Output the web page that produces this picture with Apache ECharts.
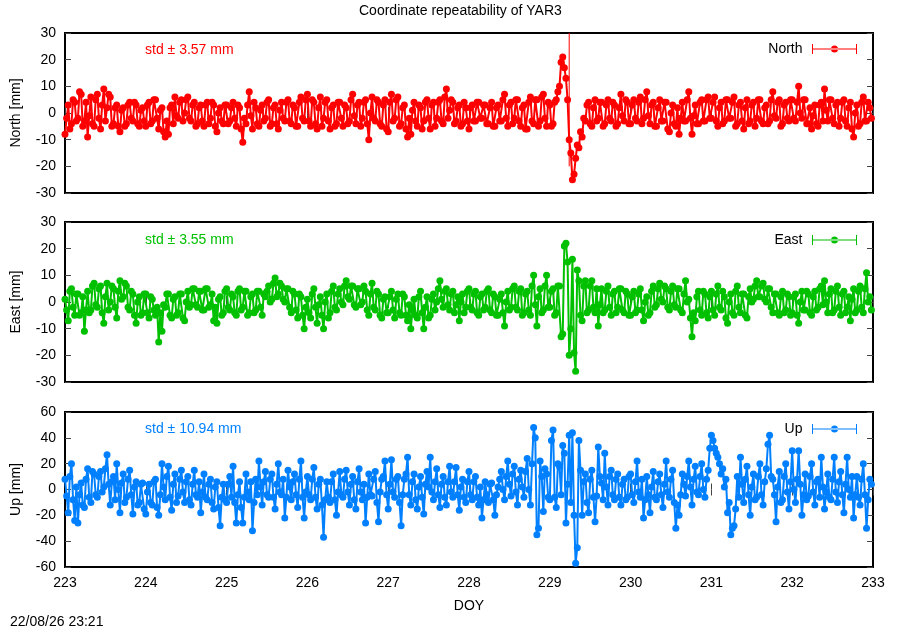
<!DOCTYPE html>
<html>
<head>
<meta charset="utf-8">
<script src="https://cdn.jsdelivr.net/npm/echarts@6/dist/echarts.min.js"></script>
<style>html,body{margin:0;padding:0;background:#fff}#c{width:900px;height:630px}</style>
</head>
<body>
<div id="c"></div>
<script>
// ---- data (one line per day 223..232) ----
const doyStart = 223;
const doyStep = 0.02;
const xTickMin = 223, xTickMax = 233, xTickStep = 1;
const enuTicks = [-30, 30, 10];
const upTicks = [-60, 60, 20];

const north = [
 -8,-2,3,-6,-4,5,4,-3,-2,8,7,-5,-3,4,-9,-1,6,-4,-5,5,7,-2,-6,3,9,-3,2,7,6,-5,-4,2,3,-5,-7,1,2,-5,-4,3,4,-2,-3,4,3,-4,-5,1,2,-3,
 -5,3,4,-4,-3,5,5,-2,-6,1,2,-7,-9,-3,-8,2,3,-4,6,-1,-2,4,5,-3,0,5,6,-2,-3,3,4,-5,-4,2,3,-3,-5,3,4,-4,-2,4,3,-5,-7,0,2,-3,-4,3,
 3,-4,-3,2,4,-2,-5,3,2,-6,-11,-2,-4,3,8,-1,-6,4,2,-4,-5,1,3,-3,-2,4,5,-5,-4,2,3,-4,-6,1,4,-2,-3,4,5,-3,-4,3,2,-5,-5,4,6,-2,-3,5,
 7,-3,-5,5,4,-4,-6,2,6,-5,-2,4,5,-3,-6,2,3,-5,-4,4,4,-2,-5,3,2,-4,-3,5,7,-1,-4,3,4,-5,-2,4,5,-4,-10,0,6,-2,-3,5,4,-4,-5,3,5,-6,
 -7,4,7,-3,-2,5,6,-5,-4,2,3,-6,-9,-2,-8,1,4,-3,-5,3,2,-6,-3,4,5,-2,-6,3,4,-5,-2,4,5,-3,-4,6,9,-2,1,5,4,-4,-3,2,3,-5,-4,4,2,-3,
 -6,2,3,-3,-3,4,4,-2,-2,3,3,-4,-4,2,4,-5,-5,2,3,-3,-3,5,7,-2,-5,3,4,-4,-2,5,5,-3,-5,2,3,-6,-6,4,6,-3,-4,5,5,-5,-3,6,7,-2,-5,4,
 3,-5,-4,4,5,8,10,19,21,17,13,5,-10,-15,-25,-23,-17,-12,-13,-7,-9,-2,-3,3,4,-4,-5,2,5,-3,-2,4,4,-5,-4,3,5,-2,-3,4,3,-5,-4,2,7,-1,-3,5,4,-4,
 -4,3,5,-2,-3,4,6,-4,-2,5,8,-1,-4,3,4,-5,-5,2,5,-3,-3,4,4,-6,-7,0,3,-4,-5,2,-8,-2,4,-3,-3,5,8,-2,-8,-1,3,-4,-4,4,5,-3,-3,5,6,-2,
 -2,4,6,-3,-5,2,4,-4,-3,5,5,-2,-2,4,6,-5,-4,3,4,-3,-6,2,5,-4,-3,3,4,-5,-2,5,5,-3,-4,2,3,-4,-3,5,8,-1,-2,4,5,-5,-4,3,4,-2,-3,5,
 5,-2,-3,4,10,0,-2,5,5,-4,-4,2,-6,-1,3,-4,-5,3,4,-3,9,1,-3,5,5,-2,-4,3,4,-5,-2,4,5,-3,-5,2,4,-6,-9,0,3,-5,-4,4,6,-3,-3,4,2,-2
];
const east = [
 1,-3,-7,4,5,-2,-5,3,3,-5,-4,2,-11,-3,4,-4,-3,6,7,-1,-2,5,6,-4,-8,2,7,-3,0,6,5,-2,-6,4,8,1,2,7,6,-2,-3,4,3,-5,-8,0,2,-5,-4,3,
 3,-4,-6,2,1,-3,-5,-2,-15,-4,-11,-1,-2,3,3,-5,-6,1,2,-5,-4,3,3,-6,-7,0,4,-2,-1,5,5,-1,-2,4,4,-3,-3,5,5,-2,-1,3,-7,-2,-8,1,2,-5,-4,4,
 5,-2,-3,3,2,-4,-5,4,5,-3,-2,4,4,-5,-4,2,3,-4,-3,4,4,-2,-5,3,2,4,6,0,1,7,9,2,3,7,6,1,0,5,5,-2,-4,4,3,-3,-6,3,2,-5,-10,-2,
 1,-4,-6,3,5,-2,-8,-1,2,-5,-10,0,3,-6,-4,4,6,-2,-3,3,5,0,-1,6,8,2,1,6,6,-1,-2,5,5,-1,0,6,4,-3,-5,3,7,-2,-3,4,3,-5,-6,1,2,-4,
 -4,2,4,-3,-6,1,3,-4,-5,3,2,-5,-7,-1,-10,-3,1,-5,-6,2,4,-4,-10,-2,2,-6,-5,1,3,-3,0,5,8,1,-2,4,5,-1,-3,3,4,-4,-1,2,-7,0,3,-4,-2,4,
 5,-2,-3,3,4,-4,-5,2,3,-3,-2,4,5,-3,-4,3,2,-5,-5,1,3,-4,-9,0,4,-3,-2,5,6,-2,-3,4,5,-5,-4,3,4,-3,-5,6,10,-1,-9,2,5,-4,-3,6,10,-2,
 -2,4,5,-5,-4,6,6,-13,-12,21,22,15,-20,-10,16,-19,-26,12,8,-5,-7,6,8,-4,-3,6,8,-2,-4,5,-9,-1,5,-4,-3,4,6,-2,-5,3,4,-4,-2,5,5,-3,-4,4,3,-5,
 -5,2,4,-4,-3,3,5,-3,-7,0,2,-5,-4,4,6,-2,-1,5,7,1,0,6,5,-2,-3,4,6,-1,-2,5,5,-3,-4,3,8,0,1,-6,-13,-4,-7,2,4,-3,-5,4,3,-4,-6,2,
 4,-3,-5,3,6,-2,-3,4,2,-6,-8,0,3,-4,-5,4,6,-2,-4,3,3,-5,-6,2,5,0,1,6,8,2,2,6,7,1,0,5,5,-2,-4,3,3,-4,-5,2,4,-4,-3,3,2,-5,
 -4,2,3,-5,-8,0,4,-3,-3,4,3,-4,-5,2,4,-3,-2,5,6,-1,8,0,-4,3,5,-4,-3,4,6,-2,-5,3,4,-4,-2,2,-7,1,5,-4,-3,4,6,-2,-4,5,11,0,2,-3
];
const up = [
 8,-5,-18,10,20,-8,-24,2,-26,-4,5,-12,-14,8,16,-6,-10,14,12,-4,-6,10,14,-2,2,16,27,4,-12,6,10,-8,20,0,-18,5,12,-10,-6,8,15,-4,-19,2,6,-12,-10,4,5,-15,
 -19,-2,4,-10,-12,6,8,-14,-20,-4,20,2,-8,10,18,-6,-16,4,12,-10,-5,8,15,-2,-10,6,10,-8,-12,4,15,-4,-6,6,-18,-2,12,-6,-8,4,8,-10,-15,2,6,-14,-28,-6,4,-8,
 -10,4,10,-6,18,-10,-26,-4,6,-14,-26,-6,12,-2,-8,6,-32,-10,8,-4,22,2,-12,6,14,-4,-6,8,12,-6,-15,4,20,-2,-4,8,-22,-6,15,2,-8,6,12,-4,-14,8,22,-6,-22,-2,
 10,-4,-8,8,17,-6,-15,4,8,-12,-37,-8,6,-6,-10,6,12,-8,-20,-2,14,-4,-6,8,15,-2,-12,4,10,-8,-15,6,16,-2,-8,4,-26,-6,12,-4,-5,8,14,-10,-25,-2,8,10,22,-4,
 -15,4,23,-2,-6,8,10,-10,-28,-4,8,12,25,-4,-12,6,12,-8,-15,2,10,-6,-19,4,14,2,25,-2,-8,6,16,-4,-14,4,10,-6,-12,6,18,-2,-6,6,17,-4,-16,2,8,-6,-10,6,
 14,-4,-8,6,10,-6,-12,2,-22,-8,6,-4,-10,4,5,-8,-20,-4,2,8,14,0,-8,10,22,4,-5,12,18,-2,-12,8,15,2,-6,14,24,0,-12,20,48,40,-35,-30,22,10,-17,16,12,-6,
 -8,38,46,-6,-14,20,18,-4,34,28,-26,4,42,-10,44,-20,-57,-45,38,15,-20,6,12,-10,-18,8,15,-6,-25,-5,33,10,5,-8,28,2,-12,10,15,-4,-8,8,12,-6,-12,4,8,-8,-6,10,
 12,-4,-10,6,22,-2,-6,8,-22,-8,10,-4,-18,2,14,-6,-8,6,12,-4,-14,4,22,-2,-6,8,15,-10,-30,-12,-20,-4,12,4,-5,10,22,2,-12,8,18,-2,-4,10,20,0,-6,8,15,32,
 42,38,32,28,25,20,12,16,2,8,-18,-10,-35,-30,-28,-15,10,-6,25,4,-10,8,18,-4,-20,2,12,-8,-6,10,20,-4,-12,6,16,35,42,10,8,-4,-25,2,14,-10,-8,10,20,-2,-15,6,
 30,0,-10,8,30,4,-20,-4,12,-8,-5,10,20,-2,-12,6,8,-6,25,2,-15,-2,12,-6,-8,8,25,-2,-10,6,14,-4,-18,4,25,0,-6,10,-22,-4,10,-6,-12,8,20,-4,-30,-8,8,4
];
// [doy, low, high] of the one visible large error bar (North)
const northErrorBars = [[229.24, -20, 40]];

const seriesNames = ['North', 'East', 'Up'];
const axisNames = ['North [mm]', 'East [mm]', 'Up [mm]'];
const stdTexts = ['std \u00b1 3.57 mm', 'std \u00b1 3.55 mm', 'std \u00b1 10.94 mm'];
const titleText = 'Coordinate repeatability of YAR3';
const stampText = '22/08/26 23:21';
const xName = 'DOY';

// ---- chart ----
const toPairs = arr => arr.map((v, i) => [+(doyStart + i * doyStep).toFixed(2), v]);
const values = [north, east, up];
const colors = ['#ff0000', '#00c000', '#0080ff'];
const FONT = 'Liberation Sans, Arial, sans-serif';
const gridTops = [33, 222, 412];
const gridHeights = [160, 160, 155];
const legendTops = [37, 228, 417];
const stdTops = [38, 228, 417];
const yTicks = [enuTicks, enuTicks, upTicks];
const tickLine = { lineStyle: { color: '#444', width: 1 } };

const grid = [], xAxis = [], yAxis = [], series = [], legend = [];
const title = [
  { text: titleText, left: 354, top: -1, textStyle: { fontFamily: FONT, fontSize: 14, fontWeight: 'normal', color: '#000' } },
  { text: stampText, left: 5, top: 610, textStyle: { fontFamily: FONT, fontSize: 14, fontWeight: 'normal', color: '#000' } }
];

for (let g = 0; g < 3; g++) {
  grid.push({ left: 65, right: 27, top: gridTops[g], height: gridHeights[g], show: true,
    borderColor: '#000', borderWidth: 2, backgroundColor: 'transparent' });
  const isLast = g === 2;
  xAxis.push({
    type: 'value', gridIndex: g, min: xTickMin, max: xTickMax, interval: xTickStep,
    axisLine: { show: false },
    axisTick: Object.assign({ inside: true, length: 6 }, tickLine),
    splitLine: { show: false },
    axisLabel: { show: isLast, color: '#000', fontFamily: FONT, fontSize: 14, margin: 9 },
    name: isLast ? xName : '', nameLocation: 'middle', nameGap: 32,
    nameTextStyle: { color: '#000', fontFamily: FONT, fontSize: 14 }
  });
  xAxis.push({
    type: 'value', gridIndex: g, position: 'top', min: xTickMin, max: xTickMax, interval: xTickStep,
    axisLine: { show: false },
    axisTick: Object.assign({ inside: true, length: 6 }, tickLine),
    splitLine: { show: false }, axisLabel: { show: false }
  });
  const t = yTicks[g];
  yAxis.push({
    type: 'value', gridIndex: g, min: t[0], max: t[1], interval: t[2],
    axisLine: { show: false },
    axisTick: Object.assign({ inside: true, length: 6 }, tickLine),
    splitLine: { show: false },
    axisLabel: { color: '#000', fontFamily: FONT, fontSize: 14, margin: 9 },
    name: axisNames[g], nameLocation: 'middle', nameGap: 42, nameRotate: 90,
    nameTextStyle: { color: '#000', fontFamily: FONT, fontSize: 14 }
  });
  yAxis.push({
    type: 'value', gridIndex: g, position: 'right', min: t[0], max: t[1], interval: t[2],
    axisLine: { show: false },
    axisTick: Object.assign({ inside: true, length: 6 }, tickLine),
    splitLine: { show: false }, axisLabel: { show: false }
  });
  series.push({
    name: seriesNames[g], type: 'line', xAxisIndex: 2 * g, yAxisIndex: 2 * g,
    data: toPairs(values[g]), color: colors[g],
    symbol: 'circle', symbolSize: 7, showSymbol: true, showAllSymbol: true,
    lineStyle: { width: 2, color: colors[g] }, itemStyle: { color: colors[g] },
    clip: true, animation: false, z: 3, progressive: 0
  });
  legend.push({
    data: [seriesNames[g]], right: 38, top: legendTops[g], align: 'right',
    icon: 'path://M0,0h1v10h-1z M0,4.5h45v1h-45z M44,0h1v10h-1z M19,5a3.5,3.5 0 1,0 7,0a3.5,3.5 0 1,0 -7,0z',
    itemWidth: 46, itemHeight: 10, selectedMode: false,
    textStyle: { color: '#000', fontFamily: FONT, fontSize: 14, padding: [0, 4, 0, 0] }
  });
  title.push({ text: stdTexts[g], left: 140, top: stdTops[g],
    textStyle: { color: colors[g], fontFamily: FONT, fontSize: 14, fontWeight: 'normal' } });
}

series.push({
  name: 'North error', type: 'custom', xAxisIndex: 0, yAxisIndex: 0, clip: true,
  data: northErrorBars, encode: { x: 0, y: [1, 2] }, z: 2,
  renderItem: function (params, api) {
    const x = api.value(0);
    const lo = api.coord([x, api.value(1)]);
    const hi = api.coord([x, api.value(2)]);
    return { type: 'line', shape: { x1: lo[0], y1: lo[1], x2: hi[0], y2: hi[1] },
      style: { stroke: colors[0], lineWidth: 1 } };
  }
});

const chart = echarts.init(document.getElementById('c'), null, { renderer: 'canvas' });
chart.setOption({ animation: false, backgroundColor: '#fff', title, grid, xAxis, yAxis, series, legend });
</script>
</body>
</html>
